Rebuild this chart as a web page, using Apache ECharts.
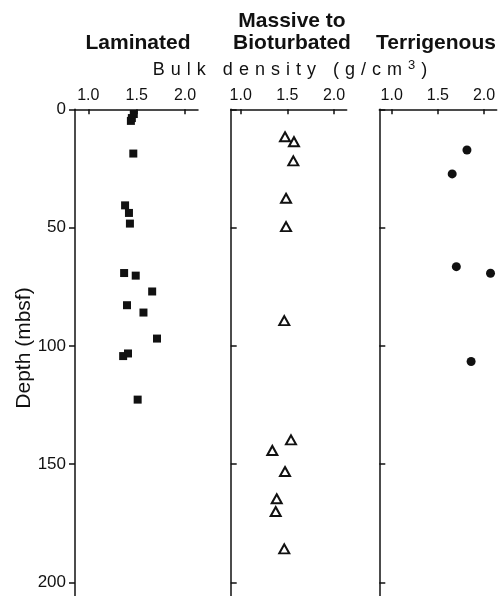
<!DOCTYPE html>
<html><head><meta charset="utf-8">
<script src="https://cdn.jsdelivr.net/npm/echarts@6/dist/echarts.min.js"></script>
<style>html,body{margin:0;padding:0;background:#fff}#c{width:503px;height:596px}</style>
</head><body><div id="c"></div>
<script>
const panelTitles = ['Laminated', 'Massive to\nBioturbated', 'Terrigenous'];
const xAxisTitleParts = ['Bulk density (g/cm', '3', ')'];
const yAxisTitle = 'Depth (mbsf)';
const densityTicks = [1.0, 1.5, 2.0];
const depthTicks = [0, 50, 100, 150, 200];

const lamDensity = [1.44, 1.45, 1.47, 1.465, 1.38, 1.42, 1.43, 1.37, 1.49, 1.66, 1.40, 1.57, 1.71, 1.36, 1.41, 1.51];
const lamDepth   = [4.9, 3.7, 2.0, 18.7, 40.6, 43.8, 48.3, 69.2, 70.3, 77.0, 82.8, 85.9, 96.9, 104.3, 103.2, 122.7];

const mbDensity = [1.475, 1.571, 1.564, 1.486, 1.486, 1.467, 1.539, 1.339, 1.475, 1.386, 1.375, 1.467];
const mbDepth   = [11.6, 13.7, 21.8, 37.6, 49.6, 89.3, 139.7, 144.2, 153.1, 164.6, 170.0, 185.8];

const terDensity = [1.815, 1.655, 1.70, 2.07, 1.86];
const terDepth   = [17.2, 27.3, 66.5, 69.3, 106.6];

const FONT = '"Liberation Sans", Arial, Helvetica, sans-serif';
const chart = echarts.init(document.getElementById('c'), null, {renderer: 'canvas'});

const panels = [
  {left: 75, width: 123, min: 0.862, max: 2.134, ylabels: true},
  {left: 230.7, width: 116, min: 0.893, max: 2.136, ylabels: false},
  {left: 379.3, width: 117.4, min: 0.866, max: 2.137, ylabels: false}
];

const grids = panels.map(p => ({left: p.left, width: p.width, top: 109.3, height: 487}));
const xAxes = panels.map((p, i) => ({
  type: 'value', gridIndex: i, position: 'top', min: p.min, max: p.max,
  axisLine: {show: true, onZero: false, lineStyle: {color: '#111', width: 1.5}},
  axisTick: {show: true, inside: true, length: 5, customValues: densityTicks, lineStyle: {color: '#111', width: 1.5}},
  axisLabel: {show: true, customValues: densityTicks, margin: 6, color: '#111', fontSize: 16, fontFamily: FONT,
              formatter: v => Number(v).toFixed(1)},
  splitLine: {show: false}
}));
const yAxes = panels.map((p, i) => ({
  type: 'value', gridIndex: i, inverse: true, min: 0, max: 205.7, interval: 50,
  axisLine: {show: true, onZero: false, lineStyle: {color: '#111', width: 1.5}},
  axisTick: {show: true, inside: !p.ylabels, length: 6, customValues: depthTicks, lineStyle: {color: '#111', width: 1.5}},
  axisLabel: {show: p.ylabels, customValues: depthTicks, margin: 9, color: '#111', fontSize: 17, fontFamily: FONT},
  splitLine: {show: false}
}));

function pairs(xs, ys) { return xs.map((x, k) => [x, ys[k]]); }

const series = [
  {type: 'scatter', xAxisIndex: 0, yAxisIndex: 0, data: pairs(lamDensity, lamDepth),
   symbol: 'rect', symbolSize: 8, itemStyle: {color: '#111', opacity: 1}},
  {type: 'scatter', xAxisIndex: 1, yAxisIndex: 1, data: pairs(mbDensity, mbDepth),
   symbol: 'triangle', symbolSize: [10, 9], itemStyle: {color: '#fff', borderColor: '#111', borderWidth: 2, opacity: 1}},
  {type: 'scatter', xAxisIndex: 2, yAxisIndex: 2, data: pairs(terDensity, terDepth),
   symbol: 'circle', symbolSize: 9, itemStyle: {color: '#111', opacity: 1}}
];

const sp = '\u2004';
const spaceOut = s => s.split('').join(sp);
const richTitle = '{n|' + spaceOut(xAxisTitleParts[0]) + sp + '}{s|' + xAxisTitleParts[1] + '}{n|' + sp + xAxisTitleParts[2] + '}';

const titleStyle = {fontSize: 21, fontWeight: 'bold', fontFamily: FONT, fill: '#111', textAlign: 'center', textVerticalAlign: 'middle'};
const titleLines = panelTitles.map(t => t.split('\n'));
const titleX = [138, 292, 436];
const graphics = [];
titleLines.forEach((lines, i) => {
  lines.forEach((ln, j) => {
    const y = 43 - (lines.length - 1 - j) * 22;
    graphics.push({type: 'text', x: titleX[i], y: y, style: Object.assign({text: ln}, titleStyle), silent: true});
  });
});
graphics.push({type: 'text', x: 290, y: 70, silent: true,
  style: {text: richTitle, fontSize: 18, fontFamily: FONT, fill: '#111', textAlign: 'center', textVerticalAlign: 'middle',
    rich: {
      n: {fontSize: 18, fontFamily: FONT, fill: '#111', lineHeight: 22, verticalAlign: 'middle'},
      s: {fontSize: 13, fontFamily: FONT, fill: '#111', lineHeight: 22, verticalAlign: 'top', padding: [0, 0, 0, 0]}
    }}});
graphics.push({type: 'text', x: 24, y: 348, rotation: Math.PI / 2, silent: true,
  style: {text: yAxisTitle, fontSize: 21, fontFamily: FONT, fill: '#111', textAlign: 'center', textVerticalAlign: 'middle'}});

chart.setOption({
  animation: false,
  backgroundColor: '#fff',
  grid: grids, xAxis: xAxes, yAxis: yAxes, series: series, graphic: graphics
});
</script></body></html>
